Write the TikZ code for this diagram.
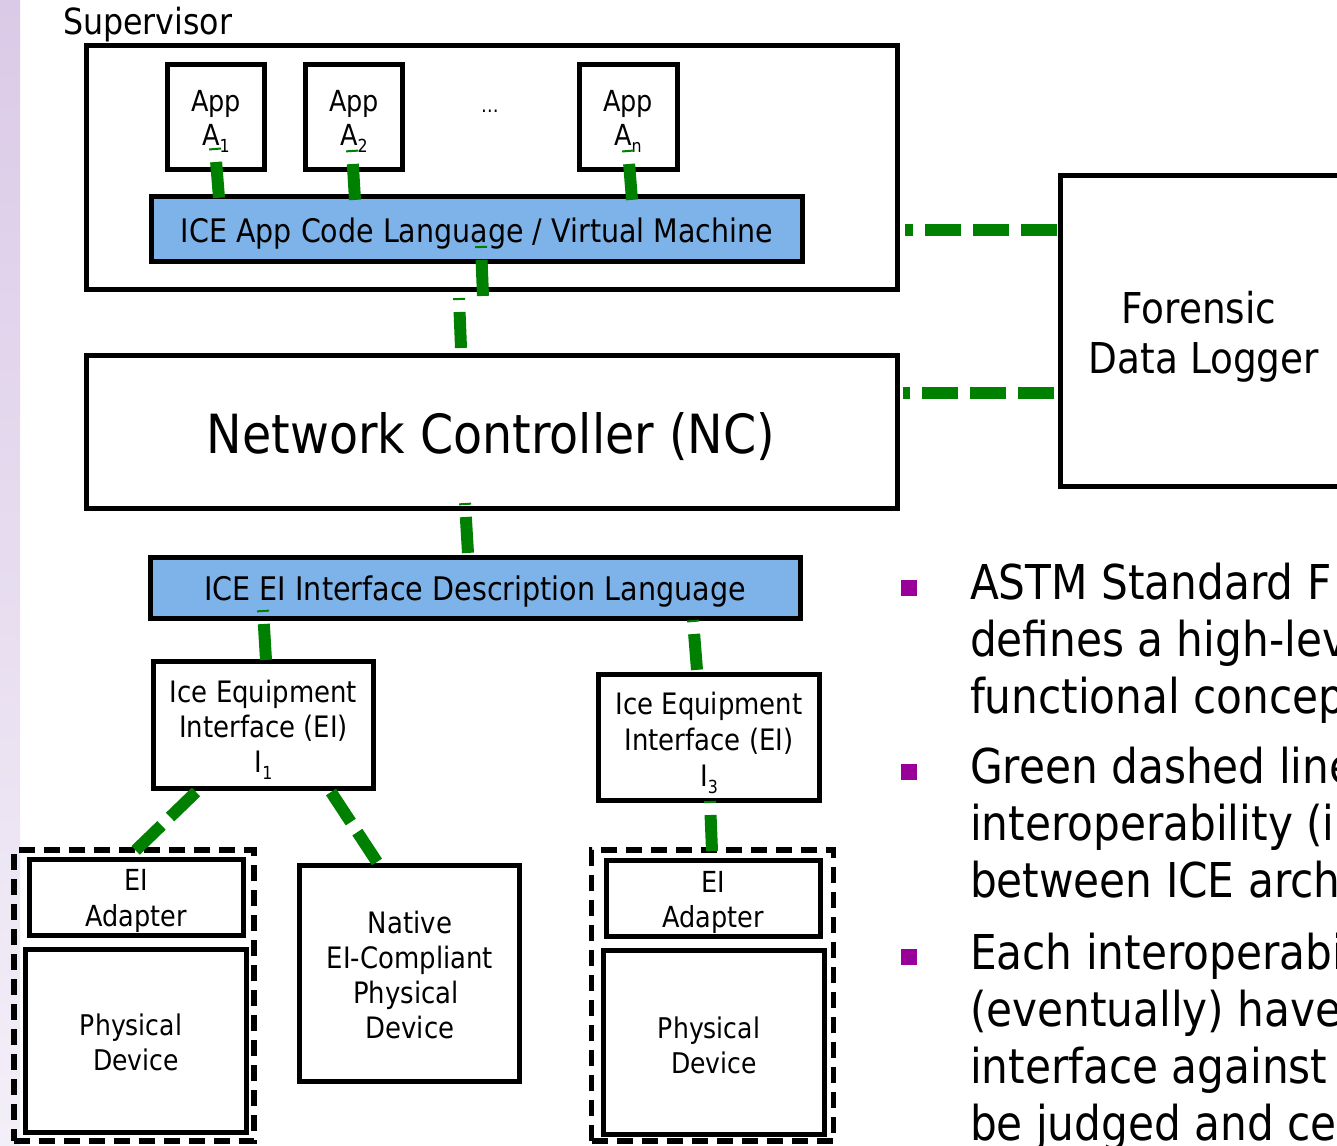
\documentclass[tikz,border=0pt]{standalone}
\usepackage{fontspec}
\setmainfont{DejaVu Sans}[FakeStretch=0.88]
\definecolor{iceblue}{RGB}{125,179,232}
\definecolor{linkgreen}{RGB}{0,128,0}
\definecolor{bulletpurple}{RGB}{153,0,153}
\definecolor{stripTop}{RGB}{219,202,231}
\definecolor{stripBot}{RGB}{243,239,248}
\newcommand\fsz[1]{\fontsize{#1}{#1}\selectfont}
\newcommand\lowsub[2]{\raisebox{-#2pt}{\fsz{18}#1}}
\begin{document}
\begin{tikzpicture}[x=1pt,y=-1pt,
  box/.style={draw=black,line width=5pt,fill=white,inner sep=0pt,outer sep=0pt},
  bluebox/.style={box,fill=iceblue},
  grp/.style={draw=black,line width=5.5pt,dash pattern=on 16pt off 9pt,inner sep=0pt,outer sep=0pt},
  lbl/.style={inner sep=0pt,outer sep=0pt,anchor=base,text=black},
  link/.style={draw=linkgreen,line width=12pt,dash pattern=on 36pt off 12pt},
  stublink/.style={link,dash phase=34pt},
  bul/.style={fill=bulletpurple,inner sep=0pt,outer sep=0pt,minimum width=16pt,minimum height=16pt},
  btxt/.style={inner sep=0pt,outer sep=0pt,anchor=base west,font=\fsz{48}}
]
\useasboundingbox (0,0) rectangle (1337,1145);
\fill[white] (0,0) rectangle (1337,1145);
\shade[top color=stripTop,bottom color=stripBot] (0,0) rectangle (20,1145);

% Supervisor
\node[lbl,anchor=base west,font=\fsz{36}] (supl) at (63,35) {Supervisor};
\node[box,minimum width=811pt,minimum height=243pt] (sup) at (491.5,167.5) {};
\node[box,minimum width=97pt,minimum height=105pt] (a1) at (216,117) {};
\node[box,minimum width=97pt,minimum height=105pt] (a2) at (354,117) {};
\node[box,minimum width=98pt,minimum height=105pt] (an) at (628.5,117) {};
\node[lbl,font=\fsz{29}] (a1t) at (216,111) {App};
\node[lbl,font=\fsz{29}] (a1s) at (216,146) {A\lowsub{1}{6}};
\node[lbl,font=\fsz{29}] (a2t) at (354,111) {App};
\node[lbl,font=\fsz{29}] (a2s) at (354,146) {A\lowsub{2}{6}};
\node[lbl,font=\fsz{29}] (ant) at (628,111) {App};
\node[lbl,font=\fsz{29}] (ans) at (628,146) {A\lowsub{n}{6}};
\node[lbl,font=\fsz{20}] (dots) at (490,113) {…};
\node[bluebox,minimum width=651pt,minimum height=65pt] (vm) at (477,229) {};
\node[lbl,font=\fsz{32.4}] (vmt) at (477,242) {ICE App Code Language / Virtual Machine};

% Forensic data logger
\node[box,minimum width=284.5pt,minimum height=311pt] (fdl) at (1202.75,331) {};
\node[lbl,font=\fsz{42.5}] (fdl1) at (1199,323) {Forensic};
\node[lbl,font=\fsz{42.5}] (fdl2) at (1204,373) {Data Logger};

% Network controller
\node[box,minimum width=810.5pt,minimum height=153pt] (nc) at (491.75,431.5) {};
\node[lbl,font=\fsz{54}] (nct) at (491,453) {Network Controller (NC)};

% IDL
\node[bluebox,minimum width=649.5pt,minimum height=60.5pt] (idl) at (475.25,587.75) {};
\node[lbl,font=\fsz{32.5}] (idlt) at (475,600) {ICE EI Interface Description Language};

% EI boxes
\node[box,minimum width=220pt,minimum height=127pt] (i1) at (263.5,725) {};
\node[lbl,font=\fsz{29.5}] (i1a) at (263.5,702) {Ice Equipment};
\node[lbl,font=\fsz{29.5}] (i1b) at (263.5,737) {Interface (EI)};
\node[lbl,font=\fsz{29.5}] (i1c) at (263.5,772) {I\lowsub{1}{7}};
\node[box,minimum width=221pt,minimum height=126pt] (i3) at (709,737.5) {};
\node[lbl,font=\fsz{29.5}] (i3a) at (709,714) {Ice Equipment};
\node[lbl,font=\fsz{29.5}] (i3b) at (709,750) {Interface (EI)};
\node[lbl,font=\fsz{29.5}] (i3c) at (709,786) {I\lowsub{3}{7}};

% left adapter group
\node[grp,minimum width=240pt,minimum height=291pt] (grpl) at (134,995.5) {};
\node[box,minimum width=214pt,minimum height=76pt] (adl) at (136.5,897.5) {};
\node[lbl,font=\fsz{29}] (adl1) at (136,890) {EI};
\node[lbl,font=\fsz{29}] (adl2) at (136,926) {Adapter};
\node[box,minimum width=221pt,minimum height=183pt] (pdl) at (136,1041) {};
\node[lbl,font=\fsz{28.5}] (pdl1) at (131,1035) {Physical};
\node[lbl,font=\fsz{28.5}] (pdl2) at (136,1070) {Device};

% native device
\node[box,minimum width=220pt,minimum height=216pt] (nat) at (409.5,973.5) {};
\node[lbl,font=\fsz{29.5}] (nat1) at (410,933) {Native};
\node[lbl,font=\fsz{29.5}] (nat2) at (410,968) {EI-Compliant};
\node[lbl,font=\fsz{29.5}] (nat3) at (406,1003) {Physical};
\node[lbl,font=\fsz{29.5}] (nat4) at (410,1038) {Device};

% right adapter group
\node[grp,minimum width=242pt,minimum height=291pt] (grpr) at (712.5,995.5) {};
\node[box,minimum width=214pt,minimum height=76pt] (adr) at (713.5,898.5) {};
\node[lbl,font=\fsz{29}] (adr1) at (713,892) {EI};
\node[lbl,font=\fsz{29}] (adr2) at (713,927) {Adapter};
\node[box,minimum width=221pt,minimum height=184pt] (pdr) at (714,1042.5) {};
\node[lbl,font=\fsz{28.5}] (pdr1) at (709,1038) {Physical};
\node[lbl,font=\fsz{28.5}] (pdr2) at (714,1073) {Device};

% connector end points
\coordinate (c1s) at (215,148);   \coordinate (c1e) at (219,198);
\coordinate (c2s) at (352,150);   \coordinate (c2e) at (355,200);
\coordinate (c3s) at (628,150);   \coordinate (c3e) at (632,200);
\coordinate (c4s) at (481,246);   \coordinate (c4e) at (483,296);
\coordinate (c5s) at (459,298);   \coordinate (c5e) at (461,348);
\coordinate (c6s) at (465,503);   \coordinate (c6e) at (468,553);
\coordinate (c7s) at (263,610);   \coordinate (c7e) at (266,660);
\coordinate (c8s) at (693,620);   \coordinate (c8e) at (697,670);
\coordinate (c9s) at (710,801);   \coordinate (c9e) at (712,851);
\coordinate (d1s) at (196,792);   \coordinate (d1e) at (135,851);
\coordinate (d2s) at (331,792);   \coordinate (d2e) at (377,862);
\coordinate (f1s) at (1057,229.5); \coordinate (f1e) at (905,229.5);
\coordinate (f2s) at (1054,393);   \coordinate (f2e) at (903,393);

\draw[stublink] (c1s) -- (c1e);
\draw[stublink] (c2s) -- (c2e);
\draw[stublink] (c3s) -- (c3e);
\draw[stublink] (c4s) -- (c4e);
\draw[stublink] (c5s) -- (c5e);
\draw[stublink] (c6s) -- (c6e);
\draw[stublink] (c7s) -- (c7e);
\draw[stublink] (c8s) -- (c8e);
\draw[stublink] (c9s) -- (c9e);
\draw[link] (d1s) -- (d1e);
\draw[link] (d2s) -- (d2e);
\draw[link] (f1s) -- (f1e);
\draw[link] (f2s) -- (f2e);

% bullets
\node[bul] (b1) at (909,588) {};
\node[bul] (b2) at (909,772) {};
\node[bul] (b3) at (909,957) {};
\node[btxt] (l1) at (970,599) {ASTM Standard F};
\node[btxt] (l2) at (970,656) {defines a high-lev};
\node[btxt] (l3) at (970,713) {functional concep};
\node[btxt] (l4) at (970,783) {Green dashed line};
\node[btxt] (l5) at (970,840) {interoperability (in};
\node[btxt] (l6) at (970,897) {between ICE arch};
\node[btxt] (l7) at (970,969) {Each interoperabil};
\node[btxt] (l8) at (970,1026) {(eventually) have};
\node[btxt] (l9) at (970,1083) {interface against t};
\node[btxt] (l10) at (970,1140) {be judged and cer};
\end{tikzpicture}
\end{document}
